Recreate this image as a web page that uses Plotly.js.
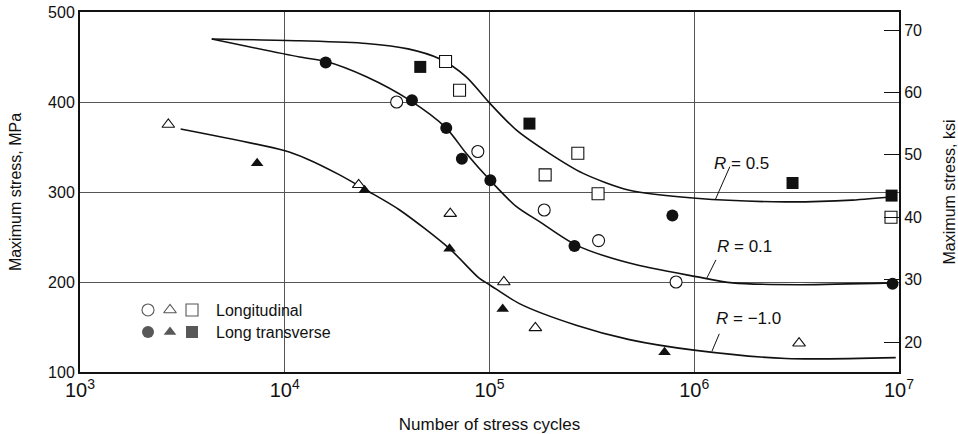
<!DOCTYPE html>
<html>
<head>
<meta charset="utf-8">
<script src="https://cdn.plot.ly/plotly-3.0.1.min.js"></script>
<style>
  html, body { margin: 0; padding: 0; background: #fff; }
  #chart { width: 958px; height: 434px; }
</style>
</head>
<body>
<div id="chart"></div>
<script>
// S-N fatigue data: cycles to failure and maximum stress (MPa)

// R = 0.1 (circles)
const longR01N  = [35200, 87700, 185000, 341000, 815000];
const longR01S  = [400, 345, 280, 246, 200];
const transR01N = [15850, 41800, 61500, 73300, 101000, 260000, 782000, 9.3e6];
const transR01S = [444, 402, 371, 337, 313, 240, 274, 198];

// R = -1.0 (triangles)
const longRm1N  = [2700, 22960, 64300, 117500, 167500, 3.25e6];
const longRm1S  = [375, 308, 276, 200, 149, 132];
const transRm1N = [7330, 24550, 63800, 116000, 716000];
const transRm1S = [332, 302, 237, 170, 122];

// R = 0.5 (squares)
const longR05N  = [61000, 71400, 187000, 270000, 339000, 9.14e6];
const longR05S  = [445, 413, 319, 343, 298, 272];
const transR05N = [45900, 156700, 3.02e6, 9.2e6];
const transR05S = [439, 376, 310, 296];

// Fitted S-N curves
const curveR05N = [4400, 11830, 25050, 40000, 57000, 76900, 100000, 135000, 196000, 285000, 482000, 1.02e6, 2.8e6, 5.9e6, 9.64e6];
const curveR05S = [470, 468, 465, 459, 448, 428, 399, 369, 343, 321, 302, 293, 289, 291, 295];
const curveR01N = [4400, 11830, 15950, 25050, 40700, 61500, 76900, 100700, 135000, 175500, 265000, 482000, 1.02e6, 1.54e6, 3.25e6, 9.27e6];
const curveR01S = [470, 450, 445, 428, 402, 371, 343, 313, 284, 267, 241, 221, 206, 199, 197, 199];
const curveRm1N = [3100, 9930, 12770, 18530, 25050, 36400, 63800, 89300, 100000, 140000, 265000, 482000, 1.02e6, 2.8e6, 9.64e6];
const curveRm1S = [370, 346, 337, 319, 302, 280, 237, 204, 197, 176, 152, 136, 124, 115, 116];

// Curve labels and the curve point each leader touches
const curveLabels = ['R = 0.5', 'R = 0.1', 'R = \u22121.0'];
const labelN = [1.27e6, 1.15e6, 1.22e6];
const labelS = [292, 204, 123];

// Key entries
const keyNames = ['Longitudinal', 'Long transverse'];
const ksiTicks = [20, 30, 40, 50, 60, 70];

const FONT = 'Liberation Sans, Arial, Helvetica, sans-serif';
const INK = '#111';

function curve(n, s) {
  return { x: n, y: s, type: 'scatter', mode: 'lines',
           line: { color: INK, width: 1.6, shape: 'spline', smoothing: 0.8 },
           hoverinfo: 'skip' };
}
function markerSize(symbol) { return symbol === 'triangle-up' ? 11 : 12; }
function pts(n, s, symbol, open) {
  return { x: n, y: s, type: 'scatter', mode: 'markers',
           marker: { symbol: symbol, size: markerSize(symbol),
                     color: open ? '#fff' : INK,
                     line: { color: INK, width: open ? 1.1 : 0 } } };
}

const keySymbols = ['circle', 'triangle-up', 'square'];

const traces = [
  curve(curveR05N, curveR05S),
  curve(curveR01N, curveR01S),
  curve(curveRm1N, curveRm1S),
  pts(longR01N, longR01S, 'circle', true),
  pts(transR01N, transR01S, 'circle', false),
  pts(longRm1N, longRm1S, 'triangle-up', true),
  pts(transRm1N, transRm1S, 'triangle-up', false),
  pts(longR05N, longR05S, 'square', true),
  pts(transR05N, transR05S, 'square', false),
  // ksi scale on the right
  { x: [], y: [], yaxis: 'y2', type: 'scatter', mode: 'markers', hoverinfo: 'skip' },
  // key symbols: open row (longitudinal) above filled row (long transverse)
  { x: [0, 1, 2], y: [1, 1, 1], xaxis: 'x3', yaxis: 'y3', type: 'scatter', mode: 'markers',
    marker: { symbol: keySymbols, size: keySymbols.map(markerSize), color: '#fff',
              line: { color: INK, width: 1.1 } }, hoverinfo: 'skip' },
  { x: [0, 1, 2], y: [0, 0, 0], xaxis: 'x3', yaxis: 'y3', type: 'scatter', mode: 'markers',
    marker: { symbol: keySymbols, size: keySymbols.map(markerSize), color: INK,
              line: { width: 0 } }, hoverinfo: 'skip' }
];

// leader tail offsets (px) and text offsets (px) for each curve label
const leaderDX = [15, 10, 8], leaderDY = [-34, -20, -19];
const textDX = [-4, 8, 2], textDY = [36, 32, 33];

const annotations = [];
curveLabels.forEach((t, i) => {
  const parts = t.split(' ');
  annotations.push({
    x: Math.log10(labelN[i]), y: labelS[i], xref: 'x', yref: 'y',
    text: '<i>' + parts[0] + '</i> ' + parts.slice(1).join(' '),
    showarrow: false, xanchor: 'left', yanchor: 'middle',
    xshift: textDX[i], yshift: textDY[i],
    font: { family: FONT, size: 17, color: INK }
  });
  // leader from the curve point up towards its label
  annotations.push({
    x: Math.log10(labelN[i]), y: labelS[i], xref: 'x', yref: 'y',
    text: '', showarrow: true, arrowhead: 0, arrowwidth: 1, arrowcolor: INK,
    ax: leaderDX[i], ay: leaderDY[i], standoff: 0
  });
});
// key labels sit just right of the third key symbol
const keyTextY = [0.1722, 0.1111];
keyNames.forEach((t, i) => {
  annotations.push({
    x: 0.1636, y: keyTextY[i], xref: 'paper', yref: 'paper', text: t, showarrow: false,
    xanchor: 'left', yanchor: 'middle',
    font: { family: FONT, size: 16, color: INK }
  });
});

const axisLine = { showline: true, linecolor: INK, linewidth: 2, zeroline: false };

const layout = {
  width: 958, height: 434,
  margin: { l: 80, r: 59, t: 12, b: 62 },
  paper_bgcolor: '#fff', plot_bgcolor: '#fff',
  showlegend: false,
  font: { family: FONT, size: 16, color: INK },
  xaxis: Object.assign({
    type: 'log', range: [3, 7], dtick: 1, exponentformat: 'power',
    showgrid: true, gridcolor: '#555', gridwidth: 1, mirror: true, ticks: '',
    tickfont: { size: 16 },
    title: { text: 'Number of stress cycles', font: { size: 17 } }
  }, axisLine),
  yaxis: Object.assign({
    range: [100, 500], dtick: 100, showgrid: true, gridcolor: '#555', gridwidth: 1,
    mirror: true, ticks: '', tickfont: { size: 16 },
    title: { text: 'Maximum stress, MPa', font: { size: 16 }, standoff: 22 }
  }, axisLine),
  yaxis2: Object.assign({
    overlaying: 'y', side: 'right', range: [15.2, 72.9], tickvals: ksiTicks,
    ticks: 'inside', ticklen: 15, tickwidth: 1, tickcolor: INK, showgrid: false,
    tickfont: { size: 16 },
    title: { text: 'Maximum stress, ksi', font: { size: 16 }, standoff: 32 }
  }, axisLine),
  xaxis3: { domain: [0.0696, 0.1502], range: [-0.5, 2.5], visible: false, anchor: 'y3', fixedrange: true },
  yaxis3: { domain: [0.0806, 0.2028], range: [-0.5, 1.5], visible: false, anchor: 'x3', fixedrange: true },
  annotations: annotations
};

Plotly.newPlot('chart', traces, layout, { displayModeBar: false, staticPlot: true });
</script>
</body>
</html>
